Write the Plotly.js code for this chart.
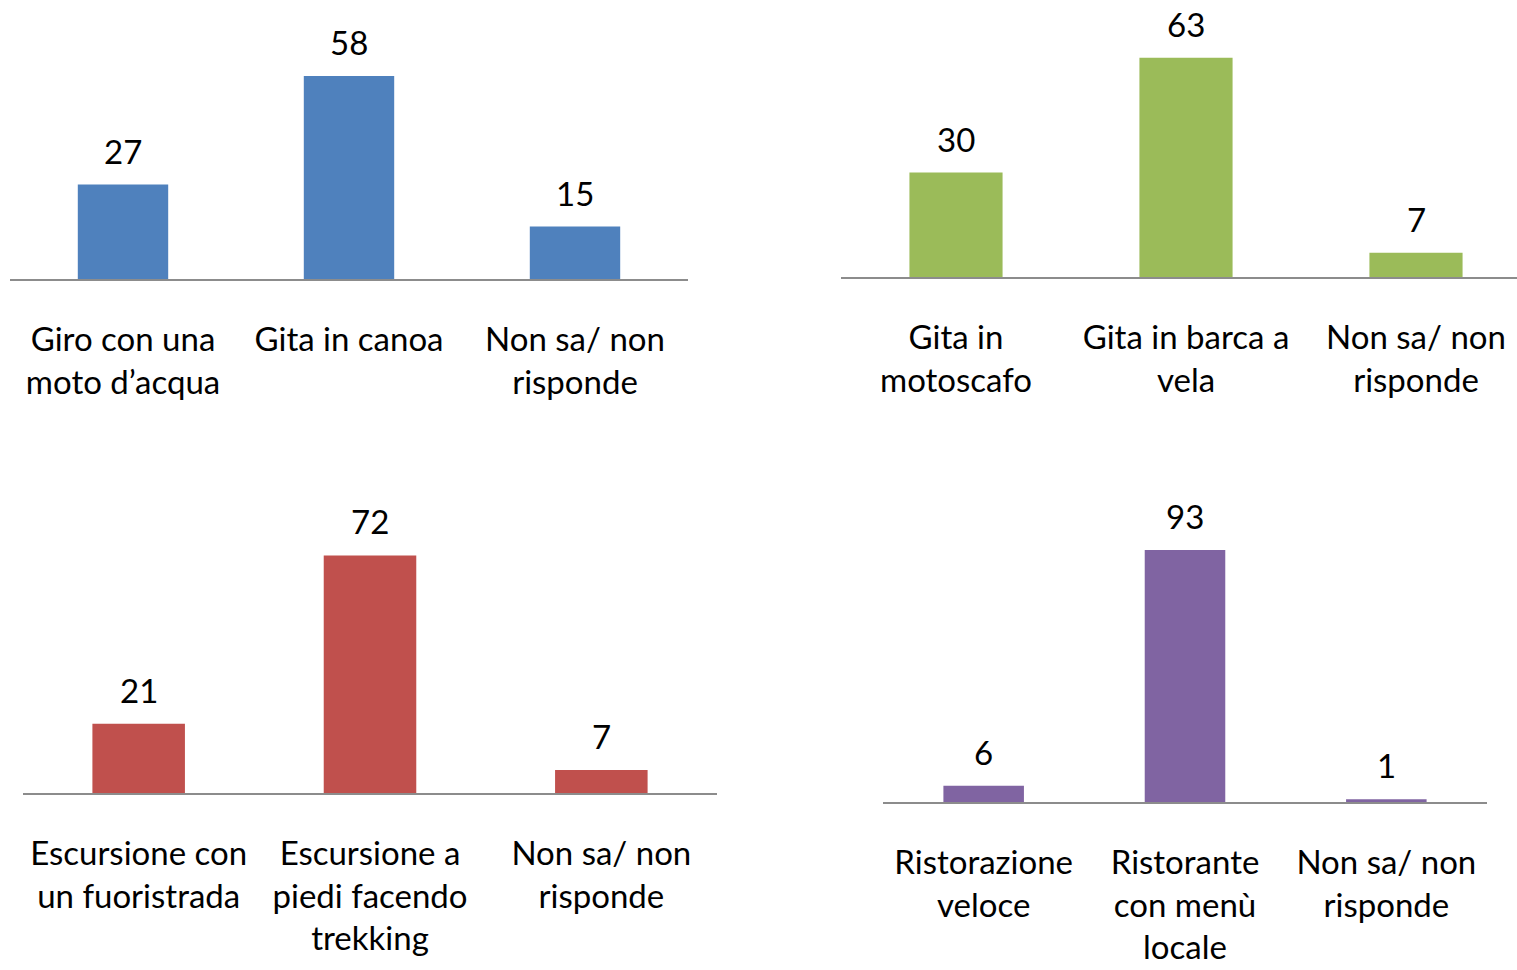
<!DOCTYPE html>
<html><head><meta charset="utf-8">
<script src="https://cdn.plot.ly/plotly-3.0.1.min.js"></script>
<style>html,body{margin:0;padding:0;background:#fff}#chart{width:1517px;height:970px}</style>
</head><body><div id="chart"></div>
<script>
// Data
const cats1 = ["Giro con una<br>moto d’acqua", "Gita in canoa", "Non sa/ non<br>risponde"];
const vals1 = [27, 58, 15];
const cats2 = ["Gita in<br>motoscafo", "Gita in barca a<br>vela", "Non sa/ non<br>risponde"];
const vals2 = [30, 63, 7];
const cats3 = ["Escursione con<br>un fuoristrada", "Escursione a<br>piedi facendo<br>trekking", "Non sa/ non<br>risponde"];
const vals3 = [21, 72, 7];
const cats4 = ["Ristorazione<br>veloce", "Ristorante<br>con menù<br>locale", "Non sa/ non<br>risponde"];
const vals4 = [6, 93, 1];

const colors = ["#4F81BD", "#9BBB59", "#C0504D", "#8064A2"];
const W = 1517, H = 970;
const FONT = "Lato, 'Open Sans', sans-serif";
const FS = 33;
const px = (a, b) => [a / W, b / W];
const py = (bot, top) => [(H - bot) / H, (H - top) / H];

const panels = [
  {cats: cats1, vals: vals1, xd: px(10, 688), yd: py(279, 16.5), yr: [0, 75], xr: [-0.5, 2.5], bw: 0.40},
  {cats: cats2, vals: vals2, xd: px(841, 1517), yd: py(277, 16), yr: [0, 75], xr: [-0.5, -0.5 + 676 / 230], bw: 0.405},
  {cats: cats3, vals: vals3, xd: px(23, 717), yd: py(793, 463), yr: [0, 100], xr: [-0.5, 2.5], bw: 0.40},
  {cats: cats4, vals: vals4, xd: px(883, 1487), yd: py(802, 531), yr: [0, 100], xr: [-0.5, 2.5], bw: 0.40}
];

const data = [];
const layout = {
  width: W, height: H,
  margin: {l: 0, r: 0, t: 0, b: 0},
  paper_bgcolor: "#fff", plot_bgcolor: "rgba(0,0,0,0)",
  showlegend: false,
  font: {family: FONT, size: FS, color: "#000"},
  annotations: []
};

panels.forEach((p, i) => {
  const n = i + 1;
  const xa = n === 1 ? "x" : "x" + n;
  const ya = n === 1 ? "y" : "y" + n;
  data.push({
    type: "bar", x: p.cats, y: p.vals, xaxis: xa, yaxis: ya,
    marker: {color: colors[i]}, width: p.bw, hoverinfo: "skip"
  });
  layout["xaxis" + (n === 1 ? "" : n)] = {
    domain: p.xd, anchor: ya, type: "category", range: p.xr,
    showgrid: false, zeroline: false, showline: true, linecolor: "#8C8C8C", linewidth: 2,
    ticks: "", ticklabelstandoff: 30, tickangle: 0,
    tickfont: {family: FONT, size: FS, color: "#000"}, fixedrange: true
  };
  layout["yaxis" + (n === 1 ? "" : n)] = {
    domain: p.yd, anchor: xa, range: p.yr,
    showgrid: false, zeroline: false, showline: false, showticklabels: false, fixedrange: true
  };
  p.cats.forEach((c, j) => {
    layout.annotations.push({
      xref: xa, yref: ya, x: c, y: p.vals[j], text: String(p.vals[j]),
      showarrow: false, yanchor: "middle", yshift: 34,
      font: {family: FONT, size: FS, color: "#000"}
    });
  });
});

Plotly.newPlot("chart", data, layout, {staticPlot: true, displayModeBar: false});
</script></body></html>
